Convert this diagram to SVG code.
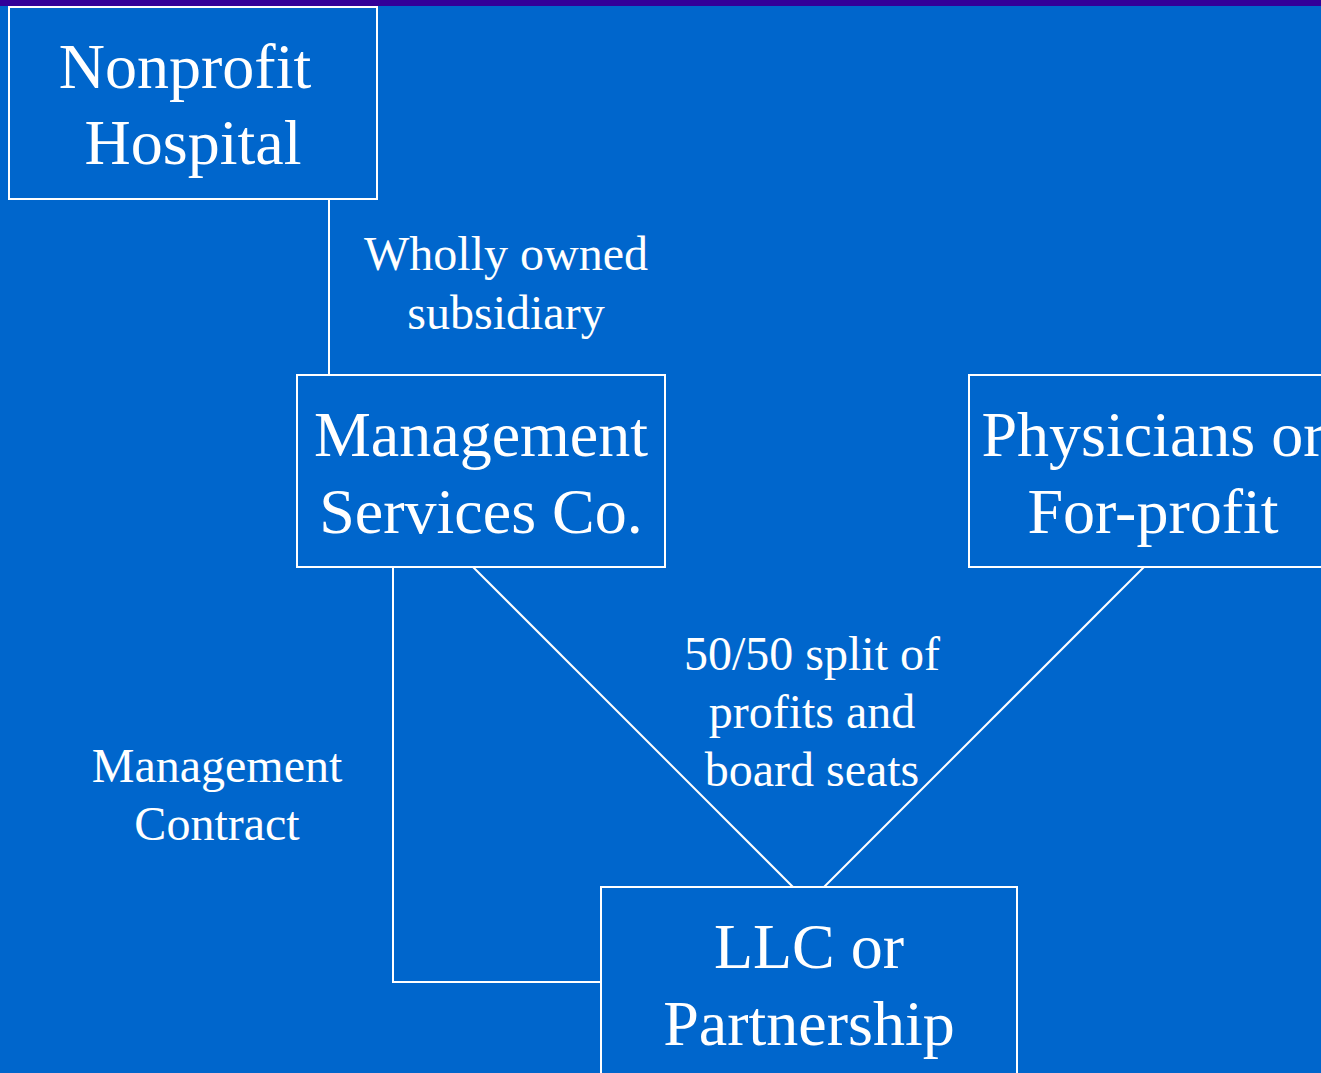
<svg xmlns="http://www.w3.org/2000/svg" width="1321" height="1073" viewBox="0 0 1321 1073">
  <style>
    .box { fill: #0066CC; stroke: #FFFFFF; stroke-width: 2; }
    .link { fill: none; stroke: #FFFFFF; stroke-width: 2; }
    .title { font-family: "Liberation Serif", "Times New Roman", serif; font-size: 64px; fill: #FFFFFF; text-anchor: middle; }
    .note { font-family: "Liberation Serif", "Times New Roman", serif; font-size: 48px; fill: #FFFFFF; text-anchor: middle; }
  </style>
  <!-- slide background -->
  <rect x="0" y="0" width="1321" height="1073" fill="#0066CC"/>
  <rect x="0" y="0" width="1321" height="6" fill="#330099"/>

  <!-- connectors -->
  <g id="connectors">
    <line class="link" x1="329" y1="199" x2="329" y2="375"/>
    <line class="link" x1="473" y1="567" x2="793" y2="887"/>
    <line class="link" x1="1144" y1="567" x2="824" y2="887"/>
    <polyline class="link" points="393,567 393,982 601,982"/>
  </g>

  <!-- connector labels -->
  <g id="labels">
    <text class="note" x="506" y="270">Wholly owned</text>
    <text class="note" x="506" y="329">subsidiary</text>
    <text class="note" x="812" y="670">50/50 split of</text>
    <text class="note" x="812" y="728">profits and</text>
    <text class="note" x="812" y="786">board seats</text>
    <text class="note" x="217" y="782">Management</text>
    <text class="note" x="217" y="840">Contract</text>
  </g>

  <g id="nonprofit-hospital">
    <rect class="box" x="9" y="7" width="368" height="192"/>
    <text class="title" x="185" y="88">Nonprofit</text>
    <text class="title" x="193" y="164">Hospital</text>
  </g>

  <g id="management-services">
    <rect class="box" x="297" y="375" width="368" height="192"/>
    <text class="title" x="481" y="456">Management</text>
    <text class="title" x="481" y="533">Services Co.</text>
  </g>

  <g id="physicians">
    <rect class="box" x="969" y="375" width="368" height="192"/>
    <text class="title" x="1153" y="456">Physicians or</text>
    <text class="title" x="1153" y="533">For-profit</text>
  </g>

  <g id="llc">
    <rect class="box" x="601" y="887" width="416" height="200"/>
    <text class="title" x="809" y="968">LLC or</text>
    <text class="title" x="809" y="1045">Partnership</text>
  </g>
</svg>
